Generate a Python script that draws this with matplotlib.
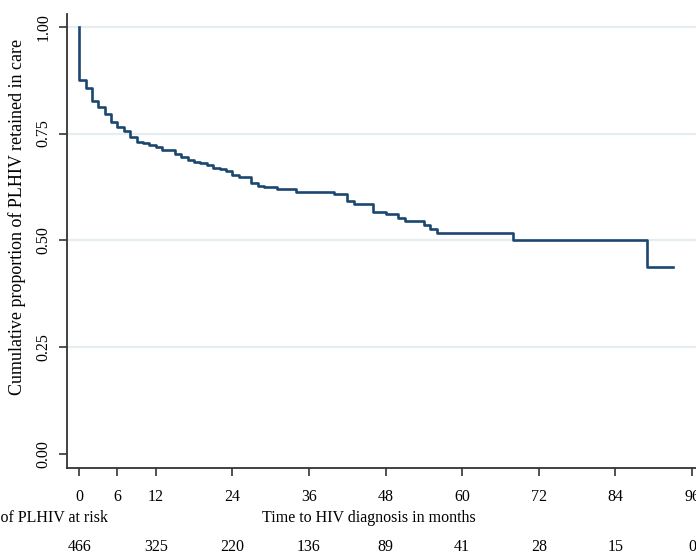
import matplotlib
matplotlib.use('Agg')
import matplotlib.pyplot as plt
import matplotlib.transforms as mtransforms

plt.rcParams['font.family'] = ['Liberation Serif', 'DejaVu Serif']

# Kaplan-Meier: retention in care
months = [0, 0, 1, 2, 3, 4, 5, 6, 7, 8, 9, 10, 11, 12, 13, 15, 16, 17, 18, 19, 20,
          21, 22, 23, 24, 25, 27, 28, 29, 31, 34, 40, 42, 43, 46, 48, 50, 51,
          54, 55, 56, 68, 89, 93]
retained = [1.0, 0.875, 0.856, 0.827, 0.813, 0.796, 0.776, 0.766, 0.757, 0.741,
            0.731, 0.727, 0.723, 0.719, 0.712, 0.702, 0.696, 0.688, 0.684, 0.682,
            0.676, 0.670, 0.666, 0.662, 0.654, 0.648, 0.635, 0.628, 0.624, 0.620,
            0.612, 0.608, 0.592, 0.586, 0.567, 0.562, 0.553, 0.546, 0.536, 0.526,
            0.517, 0.501, 0.437, 0.437]

x_ticks = [0, 6, 12, 24, 36, 48, 60, 72, 84, 96]
y_ticks = [0.00, 0.25, 0.50, 0.75, 1.00]
risk_months = [0, 12, 24, 36, 48, 60, 72, 84, 96]
at_risk = [466, 325, 220, 136, 89, 41, 28, 15, 0]

fig = plt.figure(figsize=(6.96, 5.57), dpi=100)
ax = fig.add_axes([67 / 696, 89 / 557, 1 - 67 / 696, (468 - 14) / 557])

for yv in y_ticks[1:]:
    ax.axhline(yv, color='#e4edf2', lw=1.6, zorder=0)

ax.step(months, retained, where='post', color='#1a476f', lw=1.9)

ax.set_xlim(-1.9, 96.63)
ax.set_ylim(-0.0328, 1.0297)
ax.set_xticks(x_ticks)
ax.set_yticks(y_ticks)
ax.set_yticklabels(['%.2f' % v for v in y_ticks], rotation=90, va='center')
ax.tick_params(axis='x', length=6, width=1.2, pad=9, labelsize=11.5, color='#333333')
ax.tick_params(axis='y', length=6, width=1.2, pad=5, labelsize=11.5, color='#333333')

for s in ['top', 'right']:
    ax.spines[s].set_visible(False)
for s in ['left', 'bottom']:
    ax.spines[s].set_linewidth(1.3)
    ax.spines[s].set_color('#333333')

fig.text(0.025, 0.61, 'Cumulative proportion of PLHIV retained in care',
         rotation=90, ha='center', va='center', fontsize=13)
fig.text(0.530, 0.070, 'Time to HIV diagnosis in months', ha='center', va='center', fontsize=11.5)
fig.text(0.155, 0.070, 'Number of PLHIV at risk', ha='right', va='center', fontsize=11.5)

trans = mtransforms.blended_transform_factory(ax.transData, fig.transFigure)
for m, n in zip(risk_months, at_risk):
    ax.text(m, 0.018, str(n), transform=trans, ha='center', va='center', fontsize=11.5, clip_on=False)

fig.savefig('out.png', dpi=100)
